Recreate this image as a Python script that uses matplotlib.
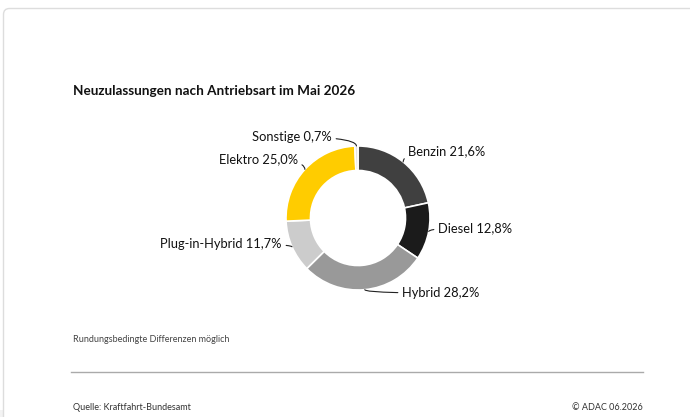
import matplotlib
matplotlib.use("Agg")
import matplotlib.pyplot as plt
from matplotlib import font_manager
from matplotlib.patches import FancyBboxPatch, Rectangle
import numpy as np

# data
labels = ["Benzin", "Diesel", "Hybrid", "Plug-in-Hybrid", "Elektro", "Sonstige"]
shares = [21.6, 12.8, 28.2, 11.7, 25.0, 0.7]
colors = ["#404040", "#1b1b1b", "#999999", "#cccccc", "#ffcc00", "#e3e3e3"]

title = "Neuzulassungen nach Antriebsart im Mai 2026"
note = "Rundungsbedingte Differenzen möglich"
source = "Quelle: Kraftfahrt-Bundesamt"
credit = "© ADAC 06.2026"

# label placement (pixel offsets from donut centre, ha)
label_pos = {
    "Benzin": (50, 67, "left"),
    "Diesel": (80, -10, "left"),
    "Hybrid": (44, -75, "left"),
    "Plug-in-Hybrid": (-76, -26, "right"),
    "Elektro": (-60, 59, "right"),
    "Sonstige": (-26, 81, "right"),
}

plt.rcParams['font.family'] = ['Lato', 'DejaVu Sans']

# footer font is a narrow one in the original
names = {f.name for f in font_manager.fontManager.ttflist}
small_font = ['Liberation Sans Narrow'] if 'Liberation Sans Narrow' in names else ['Lato']
small_size = 7.2 if small_font[0] != 'Lato' else 6.5

W, H = 690, 417
fig = plt.figure(figsize=(W / 100, H / 100), dpi=100)
fig.patch.set_facecolor("white")

# card frame
bg = fig.add_axes([0, 0, 1, 1])
bg.set_xlim(0, W)
bg.set_ylim(H, 0)
bg.axis("off")
bg.add_patch(Rectangle((0, 410), W, 7, facecolor="#f3f3f3", edgecolor="none"))
bg.add_patch(FancyBboxPatch((3.5, 8.5), 720, 420, boxstyle="round,pad=0,rounding_size=6",
                            facecolor="white", edgecolor="#dddddd", linewidth=1))
bg.text(73, 91, title, fontsize=9.75, fontweight="bold", color="#111111", va="center")
bg.text(73, 339, note, fontsize=small_size, family=small_font, color="#444444", va="center")
bg.plot([71, 643], [372, 372], color="#aaaaaa", linewidth=1)
bg.text(73, 407, source, fontsize=small_size, family=small_font, color="#333333", va="center")
bg.text(643, 407, credit, fontsize=small_size, family=small_font, color="#333333",
        va="center", ha="right")

# donut
cx, cy, R = 358, 218, 72
half = 100
ax = fig.add_axes([(cx - half) / W, (H - cy - half) / H, 2 * half / W, 2 * half / H])

wedges, _ = ax.pie(shares, colors=colors, startangle=90, counterclock=False, radius=1,
                   wedgeprops=dict(width=0.34, edgecolor="white", linewidth=1.2))
# pie resets the limits, so set them afterwards
ax.set_xlim(-half / R, half / R)
ax.set_ylim(-half / R, half / R)
ax.set_aspect("equal")
ax.axis("off")

for w, lab, v in zip(wedges, labels, shares):
    ang = np.deg2rad((w.theta1 + w.theta2) / 2)
    x0, y0 = np.cos(ang), np.sin(ang)
    dx, dy, ha = label_pos[lab]
    tx, ty = dx / R, dy / R
    txt = f"{lab} {v:.1f}%".replace(".", ",")
    ax.annotate(txt, xy=(x0, y0), xytext=(tx, ty), ha=ha, va="center",
                fontsize=9.3, color="#111111",
                arrowprops=dict(arrowstyle="-", color="#222222", lw=0.8,
                                shrinkA=1, shrinkB=0,
                                connectionstyle="angle3,angleA=0,angleB=90"))

fig.savefig("out.png", dpi=100)
